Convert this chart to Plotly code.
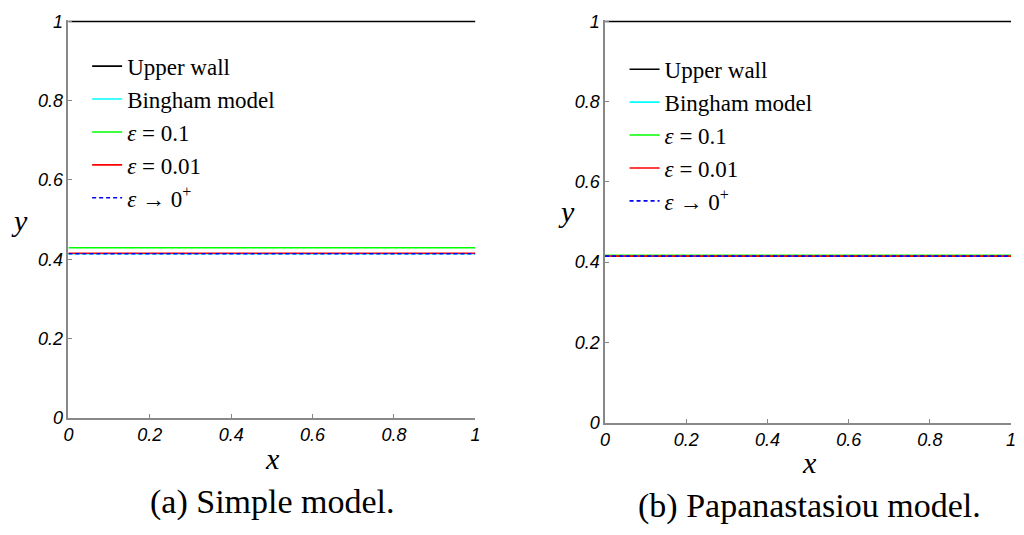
import plotly.graph_objects as go

# ---- data ----
x_vals = [0, 1]
upper_wall = [1, 1]
# panel (a) Simple model
a_bingham = [0.414, 0.414]
a_eps01 = [0.429, 0.429]
a_eps001 = [0.415, 0.415]
a_eps0p = [0.414, 0.414]
# panel (b) Papanastasiou model
b_bingham = [0.415, 0.415]
b_eps01 = [0.417, 0.417]
b_eps001 = [0.415, 0.415]
b_eps0p = [0.415, 0.415]

tick_vals = [0, 0.2, 0.4, 0.6, 0.8, 1]
tick_text = ["0", "0.2", "0.4", "0.6", "0.8", "1"]

names = ["Upper wall", "Bingham model", "<i>ε</i> = 0.1", "<i>ε</i> = 0.01", "<i>ε</i> → 0<sup>+</sup>"]
colors = ["#000000", "#00FFFF", "#00FF00", "#FF0000", "#0000FF"]
dashes = ["solid", "solid", "solid", "solid", "4px,3px"]

SERIF = "Liberation Serif"

fig = go.Figure()

panels = [
    ("x", "y", "legend", [upper_wall, a_bingham, a_eps01, a_eps001, a_eps0p]),
    ("x2", "y2", "legend2", [upper_wall, b_bingham, b_eps01, b_eps001, b_eps0p]),
]
for xa, ya, leg, series in panels:
    for name, col, dsh, ys in zip(names, colors, dashes, series):
        fig.add_trace(go.Scatter(
            x=x_vals, y=ys, mode="lines", name=name,
            line=dict(color=col, width=1.6, dash=dsh),
            xaxis=xa, yaxis=ya, legend=leg, showlegend=True,
        ))

tickfont = dict(family="Liberation Sans", size=18, color="#000000", style="italic")
axis_common = dict(
    tickvals=tick_vals, ticktext=tick_text, ticks="inside", ticklen=4,
    tickcolor="#888888", showline=True, linecolor="#888888", linewidth=1.5,
    showgrid=False, zeroline=False, tickfont=tickfont, mirror=False,
)

legend_common = dict(
    font=dict(family=SERIF, size=23, color="#000000"),
    bgcolor="rgba(0,0,0,0)", borderwidth=0, itemwidth=30,
    tracegroupgap=0, xanchor="left", yanchor="top", itemclick=False,
)

H = 535.0
fig.update_layout(
    width=1024, height=535,
    margin=dict(l=0, r=0, t=0, b=0),
    paper_bgcolor="white", plot_bgcolor="white",
    xaxis=dict(domain=[0.0625, 0.4639], anchor="y", range=[0, 1], **axis_common),
    yaxis=dict(domain=[1 - 424 / H, 1 - 12.3 / H], anchor="x", range=[0, 1.004], **axis_common),
    xaxis2=dict(domain=[0.5918, 0.9922], anchor="y2", range=[0, 1], **axis_common),
    yaxis2=dict(domain=[1 - 429 / H, 1 - 12.3 / H], anchor="x2", range=[0, 1.004], **axis_common),
    legend=dict(x=0.081, y=0.929, **legend_common),
    legend2=dict(x=0.611, y=0.923, **legend_common),
    showlegend=True,
)

ann_font = dict(family=SERIF, size=34, color="#000000")
axt_font = dict(family=SERIF, size=30, color="#000000")
annotations = [
    dict(text="<i>y</i>", x=15 / 1024, y=1 - 220 / H, font=axt_font),
    dict(text="<i>y</i>", x=567 / 1024, y=1 - 211 / H, font=axt_font),
    dict(text="<i>x</i>", x=270 / 1024, y=1 - 466 / H, font=axt_font),
    dict(text="<i>x</i>", x=812 / 1024, y=1 - 470 / H, font=axt_font),
    dict(text="(a) Simple model.", x=270 / 1024, y=1 - 511 / H, font=ann_font),
    dict(text="(b) Papanastasiou model.", x=812 / 1024, y=1 - 515 / H, font=ann_font),
]
for a in annotations:
    fig.add_annotation(xref="paper", yref="paper", showarrow=False,
                       xanchor="center", yanchor="middle", **a)

fig.write_html("out.html")
